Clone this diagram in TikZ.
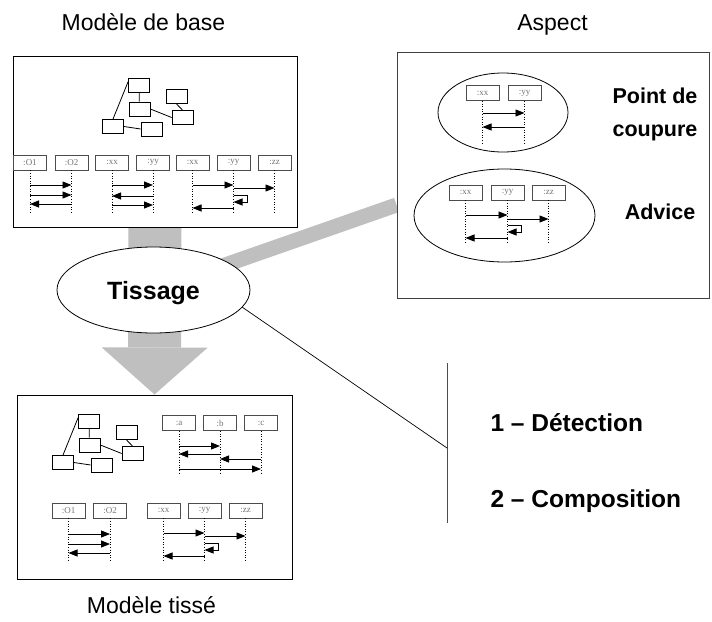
\documentclass[tikz,border=0pt]{standalone}
\usepackage{fontspec}
\setmainfont{Liberation Sans}
\newfontfamily\headserif{Liberation Serif}
\usetikzlibrary{arrows.meta,shapes.geometric,backgrounds}

\tikzset{
  frame/.style={draw,line width=1pt,fill=white,inner sep=0pt},
  title/.style={font=\fontsize{23}{27}\selectfont,anchor=base},
  cls/.style={draw,line width=0.8pt,minimum width=21pt,minimum height=14pt,inner sep=0pt},
  lhead/.style={draw=black!70,line width=0.9pt,fill=white,minimum width=33pt,minimum height=15pt,
    inner sep=0pt,text=black!55,font=\headserif\fontsize{9}{9}\selectfont},
  life/.style={dash pattern=on 1pt off 1.6pt,line width=1pt},
  msg/.style={line width=0.9pt,-{Triangle[length=9pt,width=7pt]}},
  weave/.style={ellipse,draw,line width=0.8pt,fill=white,minimum width=193pt,minimum height=86pt,
    inner sep=0pt,text depth=0pt,font=\bfseries\fontsize{25}{28}\selectfont},
  oval/.style={ellipse,draw,line width=0.8pt,inner sep=0pt},
  asplabel/.style={align=center,font=\bfseries\fontsize{21.5}{33}\selectfont},
  phase/.style={anchor=base west,font=\bfseries\fontsize{24.5}{28}\selectfont},
  band/.style={line width=15pt,black!25},
  bigarrow/.style={line width=53pt,black!25,-{Triangle[length=47pt,width=106pt,line width=0pt]}}
}

% small class diagram, used twice
\newcommand\classes{%
  \node[cls] (c1) at (139,85) {};
  \node[cls] (c2) at (139.5,109) {};
  \node[cls] (c3) at (176.5,96.5) {};
  \node[cls] (c4) at (182.5,117.5) {};
  \node[cls] (c5) at (113,126.5) {};
  \node[cls] (c6) at (151.5,129) {};
  \draw[line width=0.8pt] (c1.163) -- (c5.north);
  \draw[line width=0.8pt] (c1) -- (c2);
  \draw[line width=0.8pt] (c2.east) -- (c4.west);
  \draw[line width=0.8pt] (c3.south) -- (c4.north);
  \draw[line width=0.8pt] (c5.east) -- (c6.west);
}
\newcommand\msg[3]{\draw[msg] (#1 |- 0,#3) -- (#2 |- 0,#3);}
\newcommand\selfmsg[3]{\draw[msg] (#1 |- 0,#2) -- ++(14,0) |- (#1 |- 0,#3);}

\begin{document}
\begin{tikzpicture}[x=1pt,y=-1pt]
\useasboundingbox (0,0) rectangle (712,621);

% frames and titles
\node[frame,minimum width=284pt,minimum height=171pt] (base) at (155,141.5) {};
\node[frame,draw=black!75,minimum width=312pt,minimum height=246pt] (asp) at (553,175) {};
\node[frame,minimum width=275pt,minimum height=184pt] (woven) at (154.5,487) {};
\node[title] (tbase) at (143.5,30) {Modèle de base};
\node[title] (tasp) at (552.5,30) {Aspect};
\node[title] (twoven) at (151.5,613) {Modèle tissé};

% weaving
\node[weave] (tis) at (153.5,290) {Tissage};
\begin{scope}[on background layer]
  \draw[band] (tis.center) -- ([yshift=-30pt]asp.west);
  \draw[bigarrow] (base.south) -- (woven.north);
\end{scope}

% base model
\begin{scope}[name prefix=b-]
  \classes
\end{scope}
\foreach \n/\x/\t in {bo1/30/:O1,bo2/71.5/:O2,bx1/112/:xx,by1/153/:yy,bx2/192.5/:xx,by2/233.5/:yy,bz2/274.5/:zz}
  \node[lhead] (\n) at (\x,162.5) {\t};
\foreach \h in {bo1,bo2,bx1,by1,bx2,by2,bz2}
  \draw[life] (\h.south) -- ++(0,43);
\msg{bo1}{bo2}{185} \msg{bo1}{bo2}{195} \msg{bo2}{bo1}{204}
\msg{bx1}{by1}{185} \msg{by1}{bx1}{196} \msg{bx1}{by1}{205}
\msg{bx2}{by2}{185} \msg{by2}{bz2}{188} \selfmsg{by2}{195}{202} \msg{by2}{bx2}{208}

% aspect
\node[oval,minimum width=130pt,minimum height=79pt] (pc) at (503,112.5) {};
\node[oval,minimum width=181pt,minimum height=93pt] (adv) at (504.5,215.5) {};
\foreach \n/\x/\y/\t in {ax/482.5/93/:xx,ay/524.5/93/:yy,px/465.5/192.5/:xx,py/507.5/192.5/:yy,pz/548.5/192.5/:zz}
  \node[lhead] (\n) at (\x,\y) {\t};
\foreach \h in {ax,ay,px,py,pz}
  \draw[life] (\h.south) -- ++(0,43);
\msg{ax}{ay}{113} \msg{ay}{ax}{127}
\msg{px}{py}{215} \msg{py}{pz}{219} \selfmsg{py}{225}{232} \msg{py}{px}{238}
\node[asplabel] (pclabel) at (655,114.5) {Point de\\coupure};
\node[asplabel] (advlabel) at (660,212) {Advice};

% woven model
\begin{scope}[shift={(-50,336)},name prefix=w-]
  \classes
\end{scope}
\foreach \n/\x/\y/\t in {wa/179/423/:a,wb/220/423/:b,wc/261/423/:c,wo1/68.5/510.5/:O1,wo2/110/510.5/:O2,wx/163.5/510.5/:xx,wy/204.5/510.5/:yy,wz/245.5/510.5/:zz}
  \node[lhead] (\n) at (\x,\y) {\t};
\foreach \h in {wa,wb,wc,wo1,wo2,wx,wy,wz}
  \draw[life] (\h.south) -- ++(0,44);
\msg{wa}{wb}{446} \msg{wb}{wa}{454} \msg{wc}{wb}{459} \msg{wa}{wc}{469}
\msg{wo1}{wo2}{534} \msg{wo1}{wo2}{544} \msg{wo2}{wo1}{553}
\msg{wx}{wy}{533} \msg{wy}{wz}{536} \selfmsg{wy}{543}{550} \msg{wy}{wx}{556}

% steps
\coordinate (bartop) at (447,363);
\coordinate (barmid) at (447,448);
\coordinate (barbot) at (447,523);
\draw[line width=0.9pt,black!70] (bartop) -- (barbot);
\draw[line width=0.7pt] (tis.-11) -- (barmid);
\node[phase] (det) at (487,431) {1 – Détection};
\node[phase] (comp) at (487,507) {2 – Composition};
\end{tikzpicture}
\end{document}
